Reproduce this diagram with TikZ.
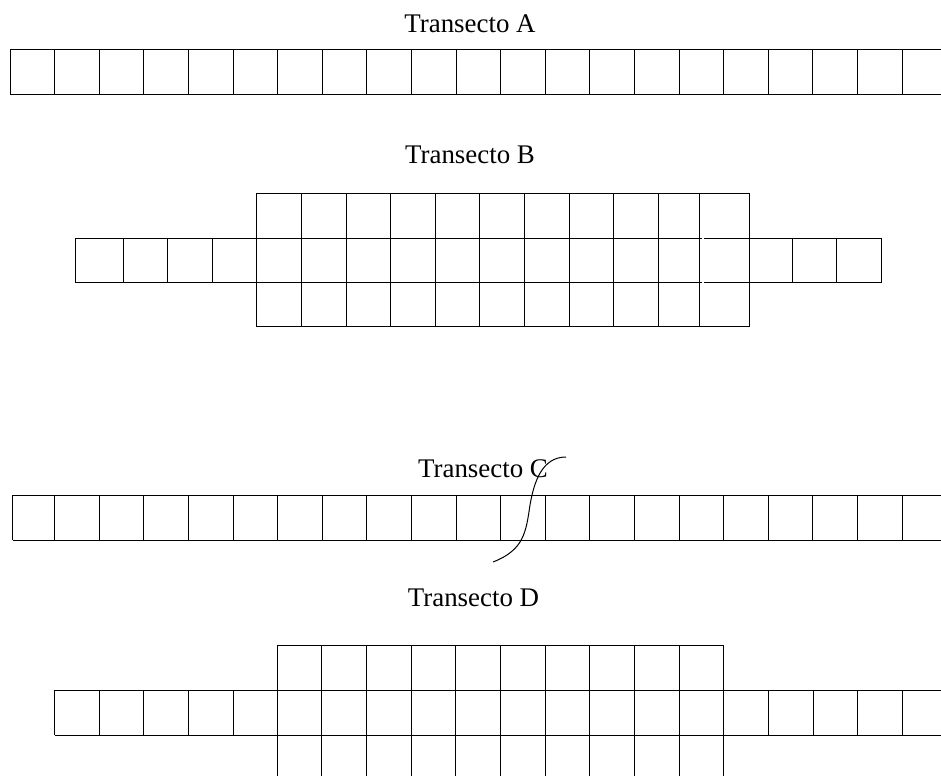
\documentclass[tikz,border=0pt]{standalone}
\usepackage{fontspec}
\setmainfont{Liberation Serif}
\begin{document}
\begin{tikzpicture}[x=1bp,y=-1bp,
  cellline/.style={line width=1bp,black},
  lbl/.style={anchor=base,inner sep=0pt,font=\fontsize{27}{30}\selectfont}]
\useasboundingbox (0,0) rectangle (941,776);
% ---------- Transecto A
\node[lbl] (la) at (470,32.5) {Transecto A};
\draw[cellline] (10,50) -- (941,50) (10,94) -- (941,94);
\foreach \k in {0,...,20} \draw[cellline] ({10+44.6*\k},50) -- ({10+44.6*\k},94);
% ---------- Transecto B
\node[lbl] (lb) at (470,163.3) {Transecto B};
\draw[cellline] (256.7,193.3) -- (749.3,193.3) (256.7,326.7) -- (749.3,326.7);
\draw[cellline] (75.3,238) -- (701.7,238) (704.3,238) -- (881.7,238);
\draw[cellline] (75.3,282.3) -- (701.7,282.3) (704.3,282.3) -- (881.7,282.3);
\foreach \x in {75.3,123,167.3,212,792,836.7,881.7} \draw[cellline] (\x,238) -- (\x,282.3);
\foreach \x in {256.7,301.3,346,390.6,435.2,479.8,524.4,569,613.6,658,699.7,749.3} \draw[cellline] (\x,193.3) -- (\x,326.7);
% ---------- Transecto C
\node[lbl] (lc) at (483,477) {Transecto C};
\draw[cellline] (12.7,495.3) -- (941,495.3) (12.7,540) -- (941,540);
\draw[cellline] (12.7,495.3) -- (12.7,540);
\foreach \k in {1,...,20} \draw[cellline] ({10+44.6*\k},495.3) -- ({10+44.6*\k},540);
\coordinate (cs) at (566,457);
\coordinate (ce) at (493,562);
\draw[line width=1bp] (cs) .. controls (542,457) and (534,482) .. (530,505) .. controls (526,532) and (524,550) .. (ce);
% ---------- Transecto D
\node[lbl] (ld) at (473.5,606.7) {Transecto D};
\draw[cellline] (277.3,645.7) -- (723.7,645.7);
\draw[cellline] (54.7,690.3) -- (941,690.3) (54.7,735) -- (941,735);
\foreach \x in {54.7,99.3,143.7,188.3,233,768.3,813,857.3,902.3} \draw[cellline] (\x,690.3) -- (\x,735);
\foreach \k in {0,...,10} \draw[cellline] ({277.3+44.64*\k},645.7) -- ({277.3+44.64*\k},776);
\end{tikzpicture}
\end{document}
